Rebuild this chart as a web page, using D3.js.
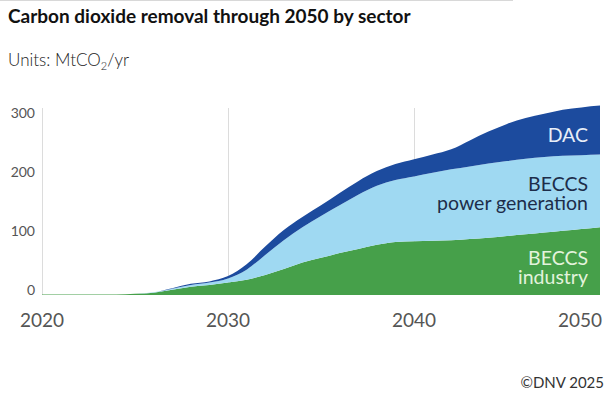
<!DOCTYPE html>
<html>
<head>
<meta charset="utf-8">
<script src="https://cdn.jsdelivr.net/npm/d3@7"></script>
<style>
  body { margin: 0; background: #fff; }
  svg { display: block; font-family: Lato, "Open Sans", sans-serif; }
</style>
</head>
<body>
<div id="chart"></div>
<script>
// Values (MtCO2/yr)
const years = [2020, 2021, 2022, 2023, 2024, 2025, 2026, 2027, 2028, 2029,
  2030, 2031, 2032, 2033, 2034, 2035, 2036, 2037, 2038, 2039,
  2040, 2041, 2042, 2043, 2044, 2045, 2046, 2047, 2048, 2049, 2050];
const beccsIndustry = [0.8, 0.8, 0.8, 1, 1, 2, 4, 9, 14, 17,
  21, 26, 34, 44, 55, 63, 71, 78, 85, 90,
  91, 92, 93, 95, 97, 100, 103, 106, 109, 112, 115];
const beccsPower = [0, 0, 0, 0, 0, 0, 0.5, 1.5, 3, 4,
  7, 17, 34, 49, 60, 71, 81, 92, 100, 105,
  110, 115, 120, 123, 126, 127, 128, 128, 127, 125, 123];
const dac = [0, 0, 0, 0, 0, 0, 0, 1, 2, 2,
  4, 9, 14, 17, 17, 18, 21, 23, 25, 27,
  29, 31, 34, 44, 54, 63, 69, 73, 78, 81, 83];
const seriesKeys = ["industry", "power", "dac"];
const seriesColors = ["#46a04a", "#9fd9f2", "#1c4b9e"];
const yTicks = [0, 100, 200, 300];
const xTicks = [2020, 2030, 2040, 2050];

const width = 611,
  height = 394;

const rows = years.map((y, i) => ({
  year: y,
  industry: beccsIndustry[i],
  power: beccsPower[i],
  dac: dac[i]
}));

const svg = d3.select("#chart")
  .append("svg")
    .attr("width", width)
    .attr("height", height);

// thin rule at very top
svg.append("line")
  .attr("x1", 0).attr("x2", 513)
  .attr("y1", 0.5).attr("y2", 0.5)
  .attr("stroke", "#d8d8d8");

// Title + units
svg.append("text")
  .attr("x", 8).attr("y", 23)
  .attr("font-size", 19)
  .attr("font-weight", 700)
  .attr("fill", "#111")
  .text("Carbon dioxide removal through 2050 by sector");

const units = svg.append("text")
  .attr("x", 8).attr("y", 66)
  .attr("font-size", 17)
  .attr("font-weight", 300)
  .attr("fill", "#222");
units.append("tspan").text("Units: MtCO");
units.append("tspan").attr("font-size", 11).attr("dy", 4).text("2");
units.append("tspan").attr("dy", -4).text("/yr");

// Scales
const xScale = d3.scaleLinear()
  .domain([2020, 2050])
  .range([42, 600]);

const yScale = d3.scaleLinear()
  .domain([0, 300])
  .range([295, 118]);

// vertical gridlines
svg.append("g")
  .selectAll("line")
  .data(xTicks.slice(0, 3))
  .enter()
  .append("line")
    .attr("x1", d => xScale(d) + 0.5)
    .attr("x2", d => xScale(d) + 0.5)
    .attr("y1", 108)
    .attr("y2", yScale(0))
    .attr("stroke", "#dcdcdc")
    .attr("stroke-width", 1);

// Stacked areas
const stack = d3.stack().keys(seriesKeys);
const layers = stack(rows);

const area = d3.area()
  .x(d => xScale(d.data.year))
  .y0(d => yScale(d[0]))
  .y1(d => yScale(d[1]))
  .curve(d3.curveMonotoneX);

svg.append("g")
  .selectAll("path")
  .data(layers)
  .enter()
  .append("path")
    .attr("fill", (d, i) => seriesColors[i])
    .attr("d", area);

// Y axis labels
svg.append("g")
  .selectAll("text")
  .data(yTicks)
  .enter()
  .append("text")
    .attr("x", 35)
    .attr("y", d => yScale(d) - 5)
    .attr("dy", "0.35em")
    .attr("text-anchor", "end")
    .attr("font-size", 14)
    .attr("fill", "#555")
    .text(d => d);

// X axis labels
svg.append("g")
  .selectAll("text")
  .data(xTicks)
  .enter()
  .append("text")
    .attr("x", d => d === 2050 ? xScale(d) + 2 : xScale(d))
    .attr("y", 327)
    .attr("text-anchor", d => d === 2050 ? "end" : "middle")
    .attr("font-size", 19)
    .attr("fill", "#555")
    .text(d => d);

// Series labels inside areas
const labels = [
  { lines: ["DAC"], y: 142, color: "#e8eef8" },
  { lines: ["BECCS", "power generation"], y: 191, color: "#1d2d4a" },
  { lines: ["BECCS", "industry"], y: 265, color: "#e3f3dc" }
];

labels.forEach(l => {
  const t = svg.append("text")
    .attr("x", 588)
    .attr("y", l.y)
    .attr("text-anchor", "end")
    .attr("font-size", 19.5)
    .attr("fill", l.color);
  l.lines.forEach((s, i) => {
    t.append("tspan")
      .attr("x", 588)
      .attr("dy", i === 0 ? 0 : 19)
      .text(s);
  });
});

// credit
svg.append("text")
  .attr("x", 604).attr("y", 388)
  .attr("text-anchor", "end")
  .attr("font-size", 15)
  .attr("fill", "#333")
  .text("©DNV 2025");
</script>
</body>
</html>
